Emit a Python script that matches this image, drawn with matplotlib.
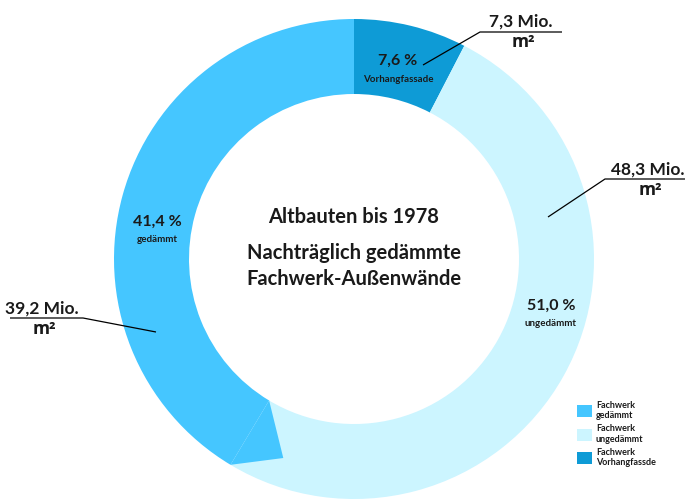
import numpy as np
import matplotlib.pyplot as plt
from matplotlib.patches import Polygon

# data
slice_names = ['Vorhangfassade', 'ungedämmt', 'gedämmt']
shares = [7.6, 51.0, 41.4]            # percent
areas = ['7,3', '48,3', '39,2']       # Mio. m²
legend_labels = ['Fachwerk\nVorhangfassde', 'Fachwerk\nungedämmt', 'Fachwerk\ngedämmt']
colors = ['#0E9BD6', '#CCF5FF', '#45C6FF']

FONT = 'Lato'
TXT = '#1a1a1a'

fig = plt.figure(figsize=(6.85, 5), dpi=100)
ax = fig.add_axes([0, 0, 1, 1])

# pixel-like coordinates, y grows downwards
cx, cy, R, ring = 354, 259, 240, 75
wedges, _ = ax.pie(shares, colors=colors, startangle=-90, counterclock=True,
                   radius=R, center=(cx, cy), frame=True,
                   wedgeprops=dict(width=ring, linewidth=0))
ax.set_xlim(0, 685)
ax.set_ylim(500, 0)
ax.set_aspect('equal')
ax.axis('off')

# small rendering glitch of the original at the gedämmt/ungedämmt border
theta = np.deg2rad(-90 + 3.6 * (shares[0] + shares[1]))
theta2 = theta - np.deg2rad(11.4)
r_in = R - ring
pts = [(cx + r_in * np.cos(theta), cy + r_in * np.sin(theta)),
       (cx + R * np.cos(theta), cy + R * np.sin(theta)),
       (cx + 0.88 * R * np.cos(theta2), cy + 0.88 * R * np.sin(theta2))]
ax.add_patch(Polygon(pts, closed=True, facecolor=colors[2], edgecolor='none'))

# percent labels inside the ring
label_pos = [(398, 61), (551, 306), (157, 222)]
for (x, y), pct, name in zip(label_pos, shares, slice_names):
    ax.text(x, y, f'{pct:.1f} %'.replace('.', ','), ha='center', va='center',
            fontsize=11.5, fontweight='bold', family=FONT, color=TXT)
    ax.text(x, y + 18, name, ha='center', va='center',
            fontsize=7, fontweight='bold', family=FONT, color=TXT)

# callouts with absolute areas
callouts = [
    ([423, 480, 562], [65, 32, 32], (521, 22)),
    ([548, 605, 685], [217, 179, 179], (648, 170)),
    ([156, 83, 10], [332, 318, 318], (42, 309)),
]
for (xs, ys, (tx, ty)), a in zip(callouts, areas):
    ax.plot(xs, ys, color='black', lw=0.9, solid_capstyle='butt')
    ax.text(tx, ty, f'{a} Mio.', ha='center', va='center',
            fontsize=12.5, fontweight='bold', family=FONT, color=TXT)
    ax.text(tx + 2, ty + 20, 'm²', ha='center', va='center',
            fontsize=12.5, fontweight='bold', family='Open Sans', color=TXT)

# centre title
ax.text(cx, 217, 'Altbauten bis 1978', ha='center', va='center',
        fontsize=14.5, fontweight='bold', family=FONT, color=TXT)
ax.text(cx, 253, 'Nachträglich gedämmte', ha='center', va='center',
        fontsize=14.5, fontweight='bold', family=FONT, color=TXT)
ax.text(cx, 279, 'Fachwerk-Außenwände', ha='center', va='center',
        fontsize=14.5, fontweight='bold', family=FONT, color=TXT)

order = [2, 1, 0]
ax.legend([wedges[i] for i in order], [legend_labels[i] for i in order],
          loc='upper left', bbox_to_anchor=(577 / 685, 1 - 401 / 500),
          frameon=False, borderpad=0, borderaxespad=0,
          handlelength=1.7, handleheight=1.7,
          handletextpad=0.4, labelspacing=0.45, labelcolor=TXT,
          prop=dict(family=FONT, weight='bold', size=6.5))

fig.savefig('out.png', dpi=100)
